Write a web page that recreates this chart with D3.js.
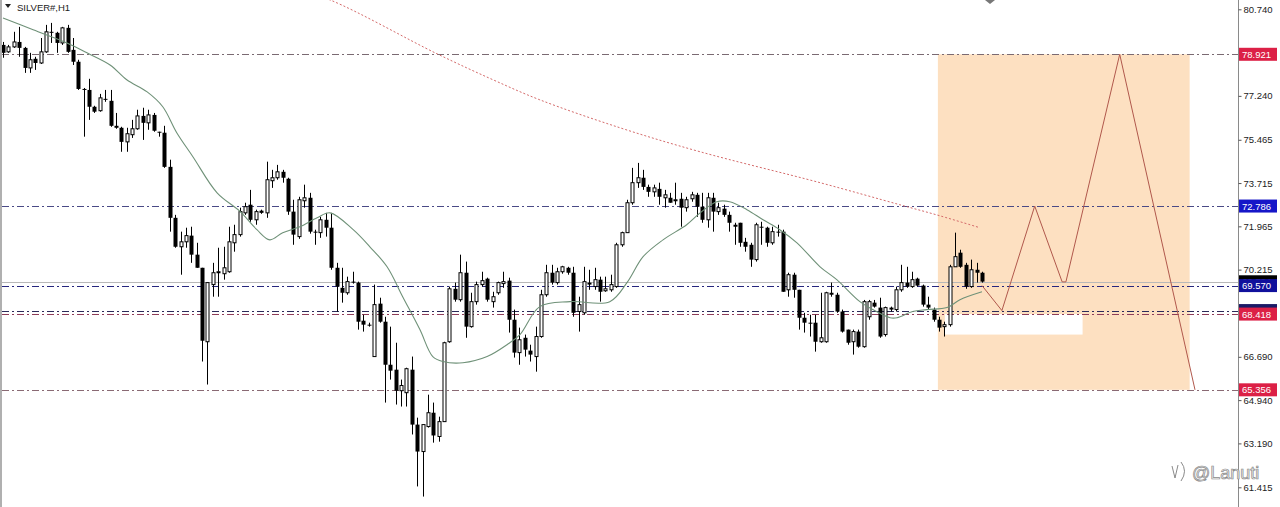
<!DOCTYPE html>
<html><head><meta charset="utf-8">
<script src="https://cdn.jsdelivr.net/npm/d3@7"></script>
<style>html,body{margin:0;padding:0;background:#fff;overflow:hidden}</style>
</head><body>
<svg id="chart" width="1280" height="507"></svg>
<script>
const symbolLabel = "SILVER#,H1";
const watermark = "@Lanuti";

const open = [79.30,79.02,79.22,79.42,79.18,78.37,78.74,78.57,79.02,79.83,
79.79,79.38,79.99,79.10,78.62,77.52,77.48,76.80,76.64,77.12,
77.04,76.03,75.95,75.38,75.67,75.91,76.43,76.15,76.47,75.79,
75.75,74.37,72.31,71.14,71.34,71.59,70.82,70.29,67.30,69.61,
70.09,70.05,70.13,71.30,71.63,72.51,72.84,72.23,72.60,72.51,
73.81,73.93,74.17,73.89,72.56,71.55,73.00,73.12,71.75,71.71,
72.23,71.91,70.29,69.48,69.28,69.73,69.69,68.15,67.99,66.70,
68.84,68.11,66.37,66.17,65.32,65.24,66.17,63.95,62.86,63.87,
64.43,63.47,64.07,67.30,69.44,69.00,70.09,67.91,68.92,69.61,
69.85,68.92,69.28,69.65,69.77,68.19,66.86,67.46,66.94,66.70,
67.51,69.20,70.09,69.69,70.13,70.29,70.09,68.52,68.47,69.69,
69.53,69.81,69.36,69.40,69.53,71.22,71.71,72.92,73.73,73.93,
73.56,73.36,73.48,73.12,73.12,73.00,73.08,72.72,73.08,73.24,
72.76,72.23,73.12,72.56,72.68,72.43,72.03,72.11,71.34,71.22,
70.62,71.95,71.91,71.30,71.75,71.75,69.40,70.01,69.40,68.27,
68.07,68.07,67.30,67.30,69.28,69.20,68.52,67.79,67.30,67.71,
67.10,68.31,68.88,68.68,67.59,68.68,68.60,69.40,69.69,69.53,
69.85,69.57,68.80,68.60,68.19,67.91,67.99,70.33,70.90,70.41,
69.53,70.21,70.09];
const high = [79.42,79.30,79.83,80.03,79.22,78.98,78.82,79.58,80.11,80.19,
79.83,80.03,80.11,79.58,78.70,77.56,77.93,76.84,77.32,77.48,
77.48,76.55,75.99,75.95,76.27,76.68,76.76,76.68,76.55,75.79,
76.03,74.66,72.43,71.75,71.91,71.95,71.30,70.29,69.69,70.49,
71.10,71.14,71.95,72.03,72.72,72.92,73.44,72.64,72.64,74.58,
74.25,74.45,74.25,73.93,73.04,73.16,73.65,73.32,71.83,72.35,
72.51,72.51,70.49,70.29,69.93,70.13,69.73,68.39,68.07,69.61,
69.08,68.31,67.91,67.26,65.77,66.25,66.70,64.23,63.95,65.16,
64.84,64.27,67.30,69.53,69.69,70.82,70.54,69.28,69.73,70.13,
69.89,69.32,69.73,70.13,69.89,68.60,67.87,67.59,67.18,67.91,
69.40,70.41,70.41,70.29,70.37,70.33,70.33,69.12,70.33,70.21,
70.29,69.93,69.93,70.01,71.30,71.75,73.04,74.33,74.53,74.25,
73.65,73.65,73.73,73.44,73.32,73.73,73.32,73.16,73.36,73.32,
73.32,73.32,73.32,72.92,72.84,72.56,72.11,72.11,71.50,71.30,
72.11,72.15,71.95,71.95,72.03,71.83,70.09,70.09,69.40,68.47,
68.39,68.39,69.28,69.32,69.69,69.28,68.60,67.79,67.79,67.79,
68.99,68.99,68.99,69.08,68.72,68.72,69.53,70.41,70.33,70.13,
69.89,69.61,69.12,68.68,68.31,68.11,70.41,71.71,71.02,70.49,
70.62,70.49,70.13];
const low = [78.78,78.98,79.18,78.82,78.17,78.17,78.29,78.53,78.98,79.38,
78.98,79.30,78.98,78.49,77.48,75.59,76.27,76.55,76.60,77.00,
75.99,75.91,74.98,74.98,75.54,75.87,75.46,75.87,75.79,75.59,
74.33,71.75,71.10,70.01,71.10,70.49,70.29,66.50,65.57,69.12,
69.12,69.81,70.09,70.94,71.55,72.43,72.15,72.03,72.47,72.31,
73.52,73.85,73.73,72.43,71.22,71.46,72.72,71.67,71.22,71.50,
71.55,70.21,68.52,68.88,69.20,69.65,67.79,67.71,67.91,66.70,
68.07,64.84,65.77,64.76,64.68,64.68,63.55,61.45,61.04,63.83,
63.22,63.26,64.07,67.26,68.92,68.92,67.46,67.87,68.80,69.53,
68.92,68.68,69.20,69.48,67.67,66.66,66.37,66.70,66.50,66.09,
67.46,69.12,69.61,69.61,70.05,70.01,68.31,67.71,68.39,69.40,
69.40,68.92,69.32,69.32,69.48,71.14,71.71,72.84,73.52,73.44,
73.16,73.16,72.84,72.72,72.92,72.84,71.95,72.56,72.96,72.35,
72.11,71.91,71.75,72.43,72.35,71.75,71.22,71.14,70.94,70.33,
70.54,71.22,71.14,71.22,71.55,69.32,69.12,69.08,67.79,67.67,
67.51,66.90,67.26,67.26,69.12,68.47,67.67,67.18,66.78,67.06,
67.06,68.19,68.68,67.46,67.51,68.52,68.52,69.32,69.48,69.48,
69.53,68.72,68.60,68.11,67.71,67.51,67.91,70.33,70.29,69.44,
69.48,69.69,69.69];
const close = [78.98,79.22,79.42,79.18,78.37,78.70,78.57,79.02,79.83,79.79,
79.38,79.99,79.02,78.62,77.52,77.48,76.80,76.60,77.16,77.08,
76.03,75.95,75.38,75.71,75.91,76.43,76.15,76.47,75.83,75.75,
74.37,72.31,71.14,71.34,71.59,70.82,70.29,67.34,69.69,70.09,
70.13,70.29,71.34,71.63,72.56,72.76,72.23,72.56,72.51,73.85,
73.93,74.17,73.93,72.56,71.63,73.04,73.12,71.75,71.71,72.23,
71.91,70.29,69.53,69.28,69.73,69.69,68.11,67.99,67.95,68.80,
68.11,66.37,66.13,65.32,65.53,66.21,63.95,62.86,63.95,64.43,
63.51,64.07,67.26,69.44,69.00,70.09,67.91,68.92,69.61,69.77,
69.00,69.12,69.69,69.73,68.19,66.86,67.38,66.98,66.78,67.51,
69.20,70.09,69.69,70.13,70.33,70.09,68.47,68.80,69.73,69.61,
69.81,69.32,69.44,69.61,71.22,71.71,72.92,73.73,73.93,73.56,
73.36,73.52,73.16,73.24,72.92,73.04,72.72,73.04,73.24,72.76,
72.23,73.12,72.56,72.72,72.43,72.11,71.95,71.30,71.14,70.62,
72.03,71.91,71.30,71.75,71.71,69.32,70.01,69.40,68.27,68.07,
68.03,67.30,67.46,69.28,69.20,68.52,67.71,67.26,67.71,67.10,
68.92,68.92,68.72,67.51,68.68,68.60,69.40,69.69,69.53,69.81,
69.57,68.80,68.68,68.19,67.87,67.99,70.33,70.74,70.33,69.53,
70.21,70.09,69.73];

// fast moving average (bar index, price)
const maFastIdx = [0,5.6,11.9,15.6,19.9,23.0,26.8,29.7,32.3,35.3,39.8,44.1,47.2,49.6,52.0,55.2,58.4,60.8,65.1,68.2,71.4,74.3,77.5,79.9,81.8,85.5,90.0,93.7,96.1,99.8,105.4,112.8,116.0,119.0,122.7,127.1,129.6,132.7,135.1,138.3,141.3,144.4,147.6,151.9,155.0,159.3,161.7,164.9,166.2,169.1,171.7,175.5,177.9,182.0];
const maFastVal = [80.39,79.91,79.38,78.98,78.49,77.89,77.40,76.80,75.75,74.78,73.32,72.56,71.83,71.42,71.71,71.95,72.31,72.51,71.83,71.14,70.33,69.12,67.79,66.70,66.50,66.45,66.70,67.18,67.59,68.72,68.92,68.92,69.69,70.74,71.42,72.03,72.51,72.96,72.96,72.64,72.23,71.83,71.30,70.33,69.81,68.92,68.60,68.27,68.27,68.52,68.60,68.68,69.00,69.32];
// slow moving average (dotted)
const maSlowIdx = [50,60.8,80.7,91.1,99.8,114.7,129.6,151.9,166.7,174.2,181.6];
const maSlowVal = [81.90,81.12,78.94,77.89,77.08,75.95,74.98,73.73,72.84,72.39,71.91];

const tickValues = [80.740,77.240,75.465,73.715,71.965,70.215,66.690,64.940,63.190,61.415];
const levelPrices = [78.921,72.786,69.570,68.560,68.418,65.356];
const levelLabels = ["78.921","72.786","69.570","","68.418","65.356"];
const bidPrice = 69.724;
const bidLabel = "69.724";

// projected path
const zigIdx = [182.0,185.7,191.8,196.9,197.6,207.6,221.6];
const zigVal = [69.57,68.56,72.786,69.72,69.72,78.921,65.356];
// target zone and gap box
const zoneIdx = [173.8,220.6];
const zoneVal = [78.921,65.356];
const gapIdx = [175.1,200.7];
const gapVal = [68.418,67.59];

const svg = d3.select("#chart");
const W = 1280, H = 507, axisX = 1238;
const x = d3.scaleLinear().domain([0,182]).range([3,982]);
const y = d3.scaleLinear().domain([61.415,80.740]).range([487.3,9.3]);

svg.append("rect").attr("width",W).attr("height",H).attr("fill","#fff");
svg.append("defs").append("clipPath").attr("id","plot")
  .append("rect").attr("x",2).attr("y",0).attr("width",axisX-2).attr("height",H);
const g = svg.append("g").attr("clip-path","url(#plot)");

// zone
g.append("rect").attr("x",x(zoneIdx[0])).attr("y",y(zoneVal[0]))
  .attr("width",x(zoneIdx[1])-x(zoneIdx[0])).attr("height",y(zoneVal[1])-y(zoneVal[0]))
  .attr("fill","#fde0c1");
g.append("rect").attr("x",x(gapIdx[0])).attr("y",y(gapVal[0]))
  .attr("width",x(gapIdx[1])-x(gapIdx[0])).attr("height",y(gapVal[1])-y(gapVal[0]))
  .attr("fill","#ffffff");

// bid line
g.append("line").attr("x1",2).attr("x2",axisX).attr("y1",Math.round(y(bidPrice))+0.5).attr("y2",Math.round(y(bidPrice))+0.5)
  .attr("stroke","#b8b8b8").attr("stroke-width",1);

// level lines
const levelStroke = ["#7a6a72","#4a4a86","#26267e","#2a2a5a","#8e3c58","#8a6a74"];
levelPrices.forEach((p,i)=>{
  const yy = Math.round(y(p))+0.5;
  g.append("line").attr("x1",2).attr("x2",axisX).attr("y1",yy).attr("y2",yy)
    .attr("stroke",levelStroke[i]).attr("stroke-width",1).attr("stroke-dasharray","7,3,2,3");
});

// slow MA dotted
const line = d3.line().x(d=>x(d[0])).y(d=>y(d[1])).curve(d3.curveCatmullRom);
g.append("path").datum(maSlowIdx.map((v,i)=>[v,maSlowVal[i]])).attr("d",line)
  .attr("fill","none").attr("stroke","#d46a6a").attr("stroke-width",1).attr("stroke-dasharray","2,2");

// candles
const bw = 3;
const cg = g.append("g");
open.forEach((o,i)=>{
  const cx = Math.round(x(i))+0.5;
  const c = close[i];
  cg.append("line").attr("x1",cx).attr("x2",cx).attr("y1",y(high[i])).attr("y2",y(low[i]))
    .attr("stroke","#000").attr("stroke-width",1);
  const top = y(Math.max(o,c)), bot = y(Math.min(o,c));
  const bull = c >= o;
  cg.append("rect").attr("x",cx-bw/2-0.5+ (bull?0.5:0)).attr("y",top)
    .attr("width",bull?bw:bw+1).attr("height",Math.max(1,bot-top))
    .attr("fill",bull?"#fff":"#000").attr("stroke",bull?"#000":"none").attr("stroke-width",1);
});

// fast MA
g.append("path").datum(maFastIdx.map((v,i)=>[v,maFastVal[i]])).attr("d",line)
  .attr("fill","none").attr("stroke","#6f9178").attr("stroke-width",1.1);

// zigzag projection
g.append("path").datum(zigIdx.map((v,i)=>[v,zigVal[i]]))
  .attr("d",d3.line().x(d=>x(d[0])).y(d=>y(d[1])))
  .attr("fill","none").attr("stroke","#b0584c").attr("stroke-width",1);

// top marker
svg.append("path").attr("d","M985,0 L995,0 L990,4 Z").attr("fill","#777");

// left border
svg.append("line").attr("x1",1).attr("x2",1).attr("y1",0).attr("y2",H).attr("stroke","#b0b0b0").attr("stroke-width",2);

// axis
svg.append("line").attr("x1",axisX+0.5).attr("x2",axisX+0.5).attr("y1",0).attr("y2",H)
  .attr("stroke","#8a8a8a").attr("stroke-width",1);
const axis = d3.axisRight(y).tickValues(tickValues).tickFormat(d3.format(".3f")).tickSize(3).tickPadding(2);
const ag = svg.append("g").attr("transform",`translate(${axisX+0.5},0)`).call(axis);
ag.select(".domain").remove();
ag.selectAll(".tick line").attr("stroke","#555");
ag.selectAll(".tick text").attr("fill","#222").style("font-family","'Liberation Sans',Arial,sans-serif").style("font-size","9.5px");

// price labels
function priceLabel(p, txt, fill){
  const yy = y(p);
  svg.append("rect").attr("x",axisX+1).attr("y",yy-6.5).attr("width",38).attr("height",13).attr("fill",fill);
  if (txt) svg.append("text").attr("x",axisX+4).attr("y",yy+3.5).text(txt).attr("fill","#fff")
    .style("font-family","'Liberation Sans',Arial,sans-serif").style("font-size","9.5px");
}
const labelFill = ["#dc2046","#1616c8","#10109c","#1a1a66","#dc2046","#dc2046"];
priceLabel(levelPrices[0],levelLabels[0],labelFill[0]);
priceLabel(levelPrices[1],levelLabels[1],labelFill[1]);
priceLabel(bidPrice,bidLabel,"#000");
priceLabel(levelPrices[2],levelLabels[2],labelFill[2]);
priceLabel(levelPrices[3],levelLabels[3],labelFill[3]);
priceLabel(levelPrices[4],levelLabels[4],labelFill[4]);
priceLabel(levelPrices[5],levelLabels[5],labelFill[5]);

// title
svg.append("path").attr("d","M5,4 L11,4 L8,8 Z").attr("fill","#222");
svg.append("text").attr("x",17).attr("y",11).text(symbolLabel).attr("fill","#222")
  .style("font-family","'Liberation Sans',Arial,sans-serif").style("font-size","9.5px");

// watermark
svg.append("path").attr("d","M1172,466 L1175,478 L1178,465 M1181,462 Q1188,471 1181,481")
  .attr("fill","none").attr("stroke","#8a8a8a").attr("stroke-width",1);
svg.append("text").attr("x",1192).attr("y",479).text(watermark)
  .attr("fill","#f2f2f2").attr("stroke","#8a8a8a").attr("stroke-width",0.7)
  .style("font-family","'Liberation Sans',Arial,sans-serif").style("font-size","18px");
</script>
</body></html>
